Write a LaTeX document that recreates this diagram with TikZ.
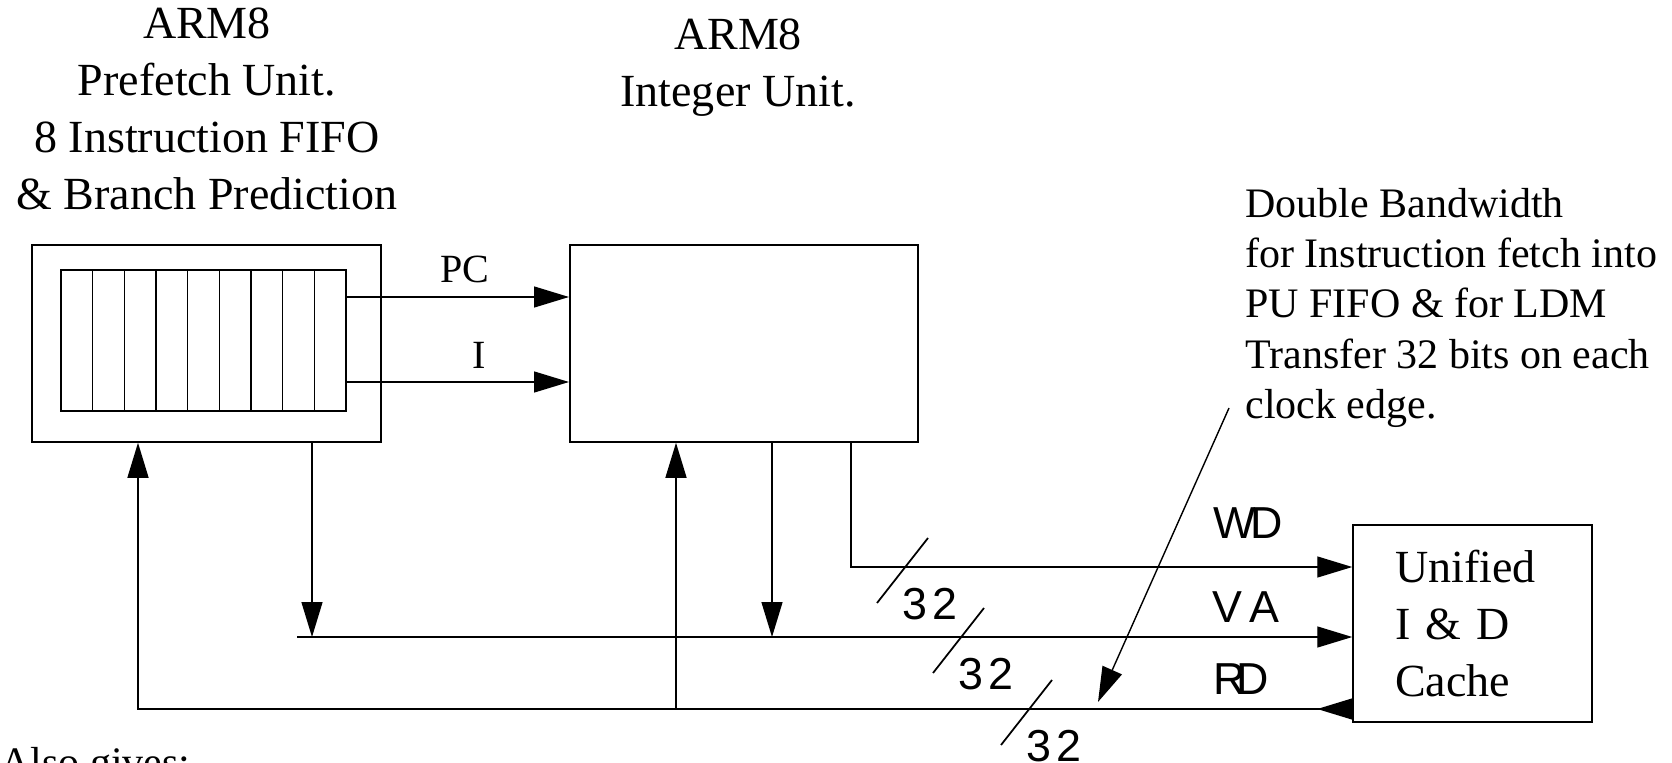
\documentclass[tikz,border=0pt]{standalone}
\usepackage{fontspec}
\setmainfont{Liberation Serif}
\setsansfont{Liberation Sans}
\usetikzlibrary{arrows.meta,calc}

\begin{document}
\begin{tikzpicture}[
    x=0.02cm, y=-0.02cm,
    unit/.style={draw, line width=0.9pt, minimum width=6.97cm,
                 minimum height=3.94cm, inner sep=0pt},
    cell/.style={draw, line width=0.9pt, minimum width=0.6333cm,
                 minimum height=2.82cm, inner sep=0pt},
    title/.style={font=\fontsize{26.2}{32.4}\selectfont, align=center,
                  anchor=north, inner sep=0pt},
    note/.style={font=\fontsize{23.9}{28.6}\selectfont, align=left,
                 anchor=north west, inner sep=0pt},
    sig/.style={font=\fontsize{22.8}{27}\selectfont, anchor=base, inner sep=0pt},
    buslabel/.style={font=\sffamily\fontsize{25.5}{30}\selectfont,
                     anchor=base west, inner sep=0pt},
    arr/.style={-{Triangle[length=7mm,width=4.2mm]}, line width=0.8pt},
    tick/.style={line width=1pt}
]
    \useasboundingbox (0,0) rectangle (1672,763);

    % units
    \node[unit] (pu) at (206.5,343.5) {};
    \foreach \i in {0,...,8}
        \node[cell] (c\i) at (76.83+31.67*\i,340.5) {};
    \node[unit] (iu) at (744,343.5) {};
    \node[unit, minimum width=4.78cm, text width=3.1cm, align=left,
          font=\fontsize{26.2}{32.2}\selectfont] (cache) at (1472.5,623.5)
          {Unified\\I \& D\\Cache};

    \node[title] (putitle) at (207,8)
        {ARM8\\Prefetch Unit.\\8 Instruction FIFO\\\& Branch Prediction};
    \node[title] (iutitle) at (738,19) {ARM8\\Integer Unit.};

    % PU -> IU
    \draw[arr] (c8.east |- 0,297) -- (iu.west |- 0,297);
    \draw[arr] (c8.east |- 0,382) -- (iu.west |- 0,382);
    \node[sig] (pclabel) at (465,283) {PC};
    \node[sig] (ilabel)  at (479,368) {I};

    % buses to and from the cache
    \coordinate (vastart) at (297,637);
    \draw[arr] (iu.south -| 851,0) |- (cache.west |- 0,567);
    \draw[arr] (vastart) -- (cache.west |- vastart);
    \draw[arr] (pu.south -| 312,0) -- (312,0 |- vastart);
    \draw[arr] (iu.south -| 772,0) -- (772,0 |- vastart);
    \draw[{Triangle[reversed,length=7mm,width=4.2mm]}-{Triangle[length=7mm,width=4.2mm]},
          line width=0.8pt] (cache.west |- 0,709) -| (pu.south -| 138,0);
    \draw[arr] (676,709) -- (iu.south -| 676,0);

    \node[buslabel] (wdlabel) at (1213,538) {W\kern-3pt D};
    \node[buslabel] (valabel) at (1212,622) {V\kern4pt A};
    \node[buslabel] (rdlabel) at (1213,694) {R\kern-5pt D};

    % bus widths
    \foreach \x/\y/\n in {905/567/wd, 961/637/va, 1029/709/rd} {
        \draw[tick] (\x,\y) ++(-28,36) -- ++(51,-65);
        \node[buslabel] (\n32) at (\x-3,\y+52) {3\kern3pt 2};
    }

    % note
    \node[note] (note) at (1245,188)
        {Double Bandwidth\\for Instruction fetch into\\PU FIFO \& for LDM\\%
         Transfer 32 bits on each\\clock edge.};
    \coordinate (notetail) at (1229,408);
    \coordinate (notehead) at (1098,702);
    \draw[arr] (notetail) -- (notehead);

    \node[note, anchor=base west] (also) at (0,776) {Also gives:};
\end{tikzpicture}
\end{document}
